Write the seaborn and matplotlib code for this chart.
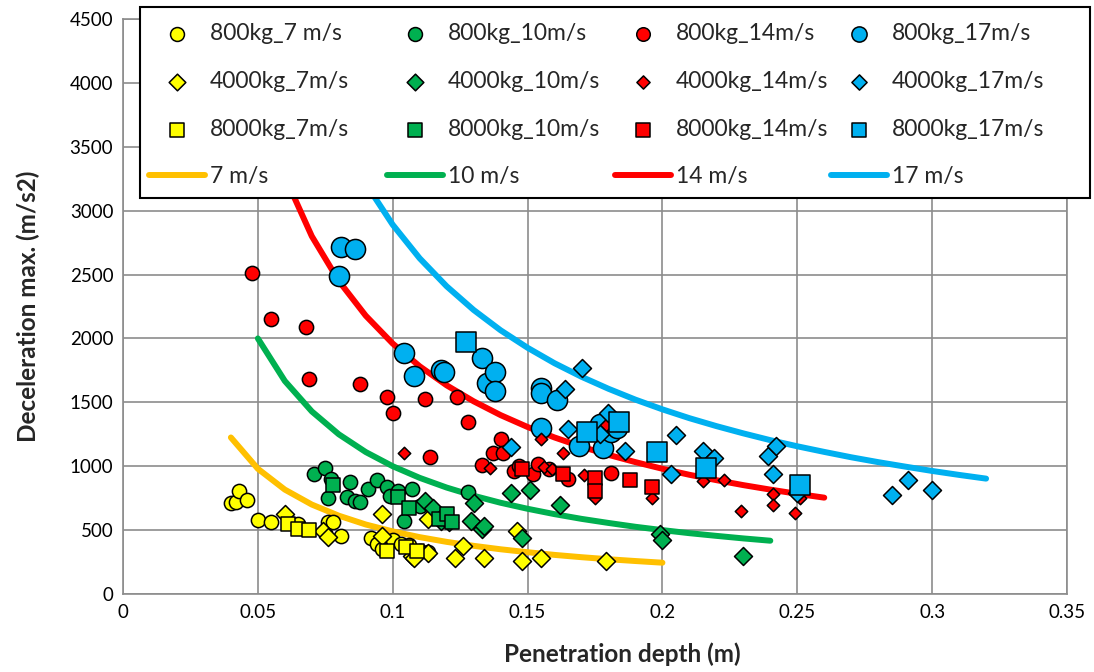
import matplotlib
matplotlib.use("Agg")
import matplotlib.pyplot as plt
import seaborn as sns
from matplotlib.collections import PathCollection
from matplotlib.patches import Rectangle

sns.set_style("white")
plt.rcParams['font.family'] = ['Lato', 'DejaVu Sans']

# ---------------- data ----------------
# fitted curves
curve7_x = [0.04, 0.05, 0.06, 0.07, 0.08, 0.09, 0.10, 0.11, 0.12, 0.13, 0.14, 0.15, 0.16, 0.17, 0.18, 0.19, 0.20]
curve7_y = [1225, 980, 817, 700, 613, 544, 490, 445, 408, 377, 350, 327, 306, 288, 272, 258, 245]
curve10_x = [0.05, 0.06, 0.07, 0.08, 0.09, 0.10, 0.11, 0.12, 0.13, 0.14, 0.15, 0.16, 0.17, 0.18, 0.19, 0.20, 0.21, 0.22, 0.23, 0.24]
curve10_y = [2000, 1667, 1429, 1250, 1111, 1000, 909, 833, 769, 714, 667, 625, 588, 556, 526, 500, 476, 455, 435, 417]
curve14_x = [0.05, 0.06, 0.07, 0.08, 0.09, 0.10, 0.11, 0.12, 0.13, 0.14, 0.15, 0.16, 0.17, 0.18, 0.19, 0.20, 0.21, 0.22, 0.23, 0.24, 0.25, 0.26]
curve14_y = [3920, 3267, 2800, 2450, 2178, 1960, 1782, 1633, 1508, 1400, 1307, 1225, 1153, 1089, 1032, 980, 933, 891, 852, 817, 784, 754]
curve17_x = [0.07, 0.08, 0.09, 0.10, 0.11, 0.12, 0.13, 0.14, 0.15, 0.16, 0.17, 0.18, 0.19, 0.20, 0.21, 0.22, 0.23, 0.24, 0.25, 0.26, 0.27, 0.28, 0.29, 0.30, 0.31, 0.32]
curve17_y = [4129, 3613, 3211, 2890, 2627, 2408, 2223, 2064, 1927, 1806, 1700, 1606, 1521, 1445, 1376, 1314, 1257, 1204, 1156, 1112, 1070, 1032, 997, 963, 932, 903]

# 800 kg
m800_v7_x = [0.040, 0.042, 0.043, 0.046, 0.050, 0.055, 0.065, 0.076, 0.078, 0.081, 0.092, 0.094, 0.096, 0.100, 0.103, 0.106, 0.110, 0.113]
m800_v7_y = [710, 720, 810, 735, 580, 560, 550, 560, 565, 455, 440, 395, 355, 420, 390, 380, 340, 330]
m800_v10_x = [0.071, 0.075, 0.077, 0.076, 0.084, 0.083, 0.086, 0.088, 0.091, 0.094, 0.098, 0.099, 0.102, 0.104, 0.107, 0.110, 0.128]
m800_v10_y = [940, 990, 900, 755, 880, 760, 730, 720, 820, 890, 840, 770, 805, 575, 825, 690, 800]
m800_v14_x = [0.048, 0.055, 0.068, 0.069, 0.088, 0.098, 0.100, 0.112, 0.114, 0.124, 0.128, 0.133, 0.137, 0.140, 0.141, 0.145, 0.147, 0.152, 0.154, 0.158, 0.165, 0.181]
m800_v14_y = [2510, 2150, 2090, 1680, 1640, 1540, 1420, 1525, 1070, 1545, 1350, 1010, 1100, 1215, 1100, 960, 1000, 940, 1020, 980, 900, 950]
m800_v17_x = [0.080, 0.081, 0.086, 0.104, 0.108, 0.118, 0.119, 0.133, 0.135, 0.138, 0.138, 0.155, 0.155, 0.155, 0.161, 0.169, 0.177, 0.178, 0.181, 0.183]
m800_v17_y = [2490, 2715, 2700, 1885, 1705, 1750, 1735, 1850, 1655, 1735, 1590, 1610, 1570, 1300, 1515, 1160, 1330, 1145, 1270, 1300]

# 4000 kg
m4000_v7_x = [0.060, 0.074, 0.076, 0.096, 0.096, 0.107, 0.108, 0.113, 0.113, 0.123, 0.126, 0.134, 0.146, 0.148, 0.155, 0.179]
m4000_v7_y = [630, 495, 450, 630, 455, 300, 280, 320, 590, 280, 375, 280, 490, 260, 280, 260]
m4000_v10_x = [0.112, 0.115, 0.118, 0.121, 0.129, 0.130, 0.133, 0.134, 0.144, 0.148, 0.151, 0.162, 0.199, 0.200, 0.230]
m4000_v10_y = [730, 670, 575, 560, 575, 715, 510, 530, 790, 440, 815, 695, 470, 425, 300]
m4000_v14_x = [0.104, 0.136, 0.155, 0.156, 0.159, 0.163, 0.171, 0.179, 0.175, 0.196, 0.215, 0.223, 0.229, 0.241, 0.241, 0.249, 0.251]
m4000_v14_y = [1100, 990, 1215, 995, 975, 1100, 935, 1325, 755, 755, 885, 895, 650, 785, 700, 635, 750]
m4000_v17_x = [0.144, 0.164, 0.165, 0.170, 0.177, 0.180, 0.186, 0.203, 0.205, 0.215, 0.219, 0.239, 0.241, 0.242, 0.250, 0.285, 0.291, 0.300]
m4000_v17_y = [1150, 1605, 1290, 1765, 1255, 1420, 1120, 940, 1245, 1120, 1065, 1080, 940, 1160, 790, 775, 895, 815]

# 8000 kg
m8000_v7_x = [0.061, 0.065, 0.069, 0.098, 0.105, 0.109]
m8000_v7_y = [550, 505, 500, 340, 370, 340]
m8000_v10_x = [0.078, 0.102, 0.106, 0.117, 0.120, 0.122]
m8000_v10_y = [850, 760, 670, 590, 630, 560]
m8000_v14_x = [0.148, 0.163, 0.175, 0.175, 0.188, 0.196]
m8000_v14_y = [980, 940, 910, 810, 895, 840]
m8000_v17_x = [0.127, 0.172, 0.184, 0.198, 0.216, 0.251]
m8000_v17_y = [1970, 1265, 1350, 1115, 990, 855]

x_ticks = [0, 0.05, 0.1, 0.15, 0.2, 0.25, 0.3, 0.35]
x_tick_labels = ["0", "0.05", "0.1", "0.15", "0.2", "0.25", "0.3", "0.35"]
y_ticks = [0, 500, 1000, 1500, 2000, 2500, 3000, 3500, 4000, 4500]
y_tick_labels = ["0", "500", "1000", "1500", "2000", "2500", "3000", "3500", "4000", "4500"]

# ---------------- styles ----------------
YEL, GRN, RED, BLU, ORG = "#FFFF00", "#00B050", "#FF0000", "#00B0F0", "#FFC000"

curves = [
    ("7 m/s", curve7_x, curve7_y, ORG),
    ("10 m/s", curve10_x, curve10_y, GRN),
    ("14 m/s", curve14_x, curve14_y, RED),
    ("17 m/s", curve17_x, curve17_y, BLU),
]
# label, x, y, color, marker, size, legend size
series = [
    ("800kg_7 m/s", m800_v7_x, m800_v7_y, YEL, "o", 105, 100),
    ("800kg_10m/s", m800_v10_x, m800_v10_y, GRN, "o", 105, 100),
    ("800kg_14m/s", m800_v14_x, m800_v14_y, RED, "o", 105, 95),
    ("800kg_17m/s", m800_v17_x, m800_v17_y, BLU, "o", 210, 120),
    ("4000kg_7m/s", m4000_v7_x, m4000_v7_y, YEL, "D", 84, 72),
    ("4000kg_10m/s", m4000_v10_x, m4000_v10_y, GRN, "D", 84, 72),
    ("4000kg_14m/s", m4000_v14_x, m4000_v14_y, RED, "D", 40, 45),
    ("4000kg_17m/s", m4000_v17_x, m4000_v17_y, BLU, "D", 84, 60),
    ("8000kg_7m/s", m8000_v7_x, m8000_v7_y, YEL, "s", 90, 88),
    ("8000kg_10m/s", m8000_v10_x, m8000_v10_y, GRN, "s", 90, 88),
    ("8000kg_14m/s", m8000_v14_x, m8000_v14_y, RED, "s", 90, 88),
    ("8000kg_17m/s", m8000_v17_x, m8000_v17_y, BLU, "s", 190, 105),
]

W, H = 1094, 672
fig = plt.figure(figsize=(W / 100, H / 100), dpi=100)
ax = fig.add_axes([123 / W, 1 - 594 / H, 944 / W, 575 / H])

for lab, xs, ys, col in curves:
    sns.lineplot(x=xs, y=ys, ax=ax, color=col, linewidth=4.3, label=lab,
                 estimator=None, sort=False, zorder=2)

leg_sizes = {}
for lab, xs, ys, col, mk, s, ls in series:
    sns.scatterplot(x=xs, y=ys, ax=ax, color=col, marker=mk, s=s,
                    edgecolor="black", linewidth=1.1, label=lab, zorder=3)
    leg_sizes[lab] = ls

ax.set_xlim(0, 0.35)
ax.set_ylim(0, 4500)
ax.set_xticks(x_ticks)
ax.set_xticklabels(x_tick_labels)
ax.set_yticks(y_ticks)
ax.set_yticklabels(y_tick_labels)
ax.grid(True, color="#8c8c8c", linewidth=1.2)
ax.set_axisbelow(True)
for sp in ax.spines.values():
    sp.set_color("#8c8c8c")
    sp.set_linewidth(1.2)
ax.tick_params(length=0, labelsize=13.5, pad=7, colors="black")
ax.set_xlabel("Penetration depth (m)", fontsize=17.5, fontweight="bold")
ax.set_ylabel("Deceleration max. (m/s2)", fontsize=17.5, fontweight="bold")
ax.xaxis.set_label_coords((622 - 123) / 944, -(642 - 594) / 575)
ax.yaxis.set_label_coords(-(123 - 40) / 944, 0.5)

# legend box (white, black frame) in figure pixels 140..1090 x 7..198
box = Rectangle((140 / W, 1 - 198 / H), 950 / W, 191 / H, transform=fig.transFigure,
                facecolor="white", edgecolor="black", linewidth=1.5,
                zorder=8, clip_on=False)
ax.add_patch(box)

handles, labels = ax.get_legend_handles_labels()
hmap = dict(zip(labels, handles))
ax.get_legend().remove() if ax.get_legend() else None

col_left_px = [149, 387, 615, 831]
columns = []
for v in ["7", "10", "14", "17"]:
    columns.append([f"800kg_{v}m/s" if v != "7" else "800kg_7 m/s",
                    f"4000kg_{v}m/s", f"8000kg_{v}m/s", f"{v} m/s"])

legs = []
for cx, col_labels in zip(col_left_px, columns):
    leg = ax.legend([hmap[k] for k in col_labels], col_labels, ncol=1,
                    loc="upper left", bbox_to_anchor=(cx / W, 1 - 23 / H),
                    bbox_transform=fig.transFigure, fontsize=16.5,
                    frameon=False, handlelength=2.45, handletextpad=0.2,
                    labelspacing=1.17, borderpad=0, borderaxespad=0)
    leg.set_zorder(10)
    for h, t in zip(leg.legend_handles, leg.get_texts()):
        if isinstance(h, PathCollection):
            h.set_sizes([leg_sizes[t.get_text()]])
    legs.append(leg)
for leg in legs[:-1]:
    ax.add_artist(leg)

fig.savefig("out.png", dpi=100)
